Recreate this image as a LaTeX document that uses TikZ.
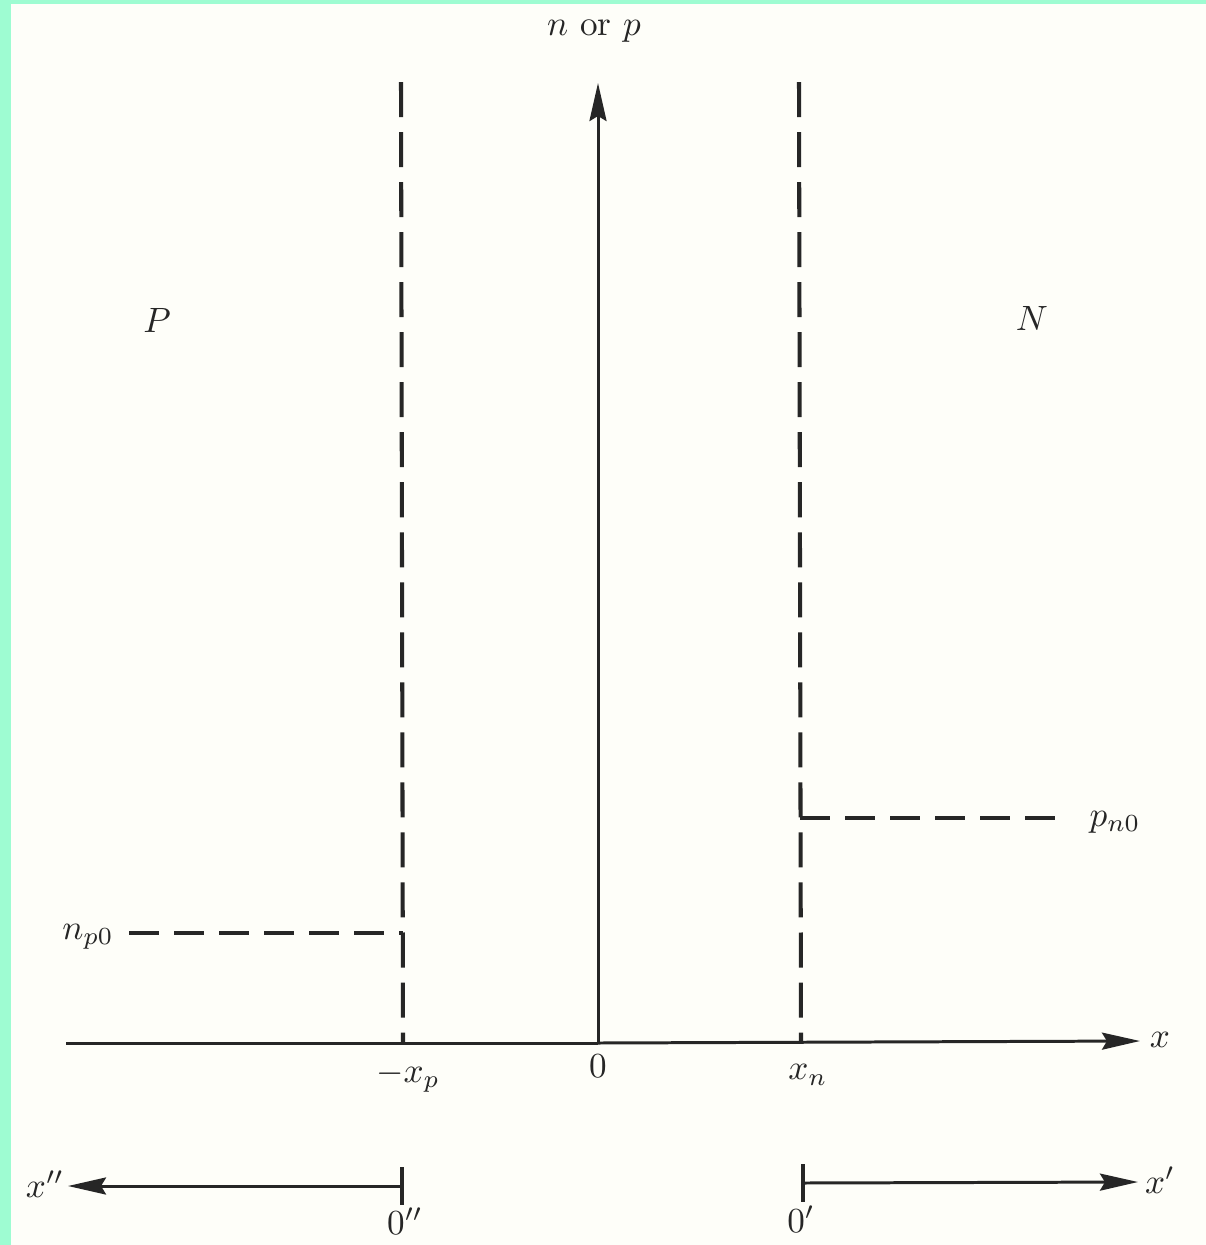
\documentclass[tikz,border=0pt]{standalone}
\usetikzlibrary{arrows.meta,positioning}
\definecolor{ink}{HTML}{262626}
\definecolor{paper}{HTML}{FEFEF9}
\definecolor{frame}{HTML}{9EFCD2}

\begin{document}
\begin{tikzpicture}[
  x=0.01cm,y=-0.01cm,
  text=ink,
  axis/.style={draw=ink,line width=.85pt},
  arrow/.style={axis,-{Stealth[length=3.8mm,width=1.7mm,inset=.5mm]}},
  vdash/.style={draw=ink,line width=1.15pt,dash pattern=on .35cm off .15cm},
  hdash/.style={draw=ink,line width=1.15pt,dash pattern=on .3cm off .15cm},
  tick/.style={draw=ink,line width=1pt},
  label/.style={font=\normalsize,inner sep=1pt}
]
  \useasboundingbox (0,0) rectangle (1206,1245);
  \fill[frame] (0,0) rectangle (1206,1245);
  \fill[paper] (11,4) rectangle (1206,1245);

  % main axes
  \coordinate (origin) at (598,1043);
  \coordinate (ytop) at (598,83);
  \coordinate (xleft) at (66,1043);
  \coordinate (xright) at (1140,1041);
  \draw[axis] (xleft) -- (origin);
  \draw[arrow] (origin) -- (xright);
  \draw[arrow] (origin) -- (ytop);

  % junction edges
  \coordinate (ptop) at (401,82);
  \coordinate (pbot) at (403,1043);
  \coordinate (ntop) at (799,82);
  \coordinate (nbot) at (801,1043);
  \draw[vdash] (ptop) -- (pbot);
  \draw[vdash] (ntop) -- (nbot);

  % equilibrium levels
  \coordinate (npl) at (129,933);
  \coordinate (npr) at (403,933);
  \coordinate (pnl) at (800,818);
  \coordinate (pnr) at (1066,818);
  \draw[hdash] (npl) -- (npr);
  \draw[hdash] (pnl) -- (pnr);

  % shifted axes
  \coordinate (lo2) at (402,1186);
  \coordinate (lend) at (68,1186);
  \coordinate (ro1) at (803,1183);
  \coordinate (rend) at (1138,1182);
  \draw[arrow] (lo2) -- (lend);
  \draw[arrow] (ro1) -- (rend);
  \draw[tick] (402,1167) -- (402,1205);
  \draw[tick] (803,1164) -- (803,1202);

  \node[label] (ylab) at (594,31) {$n$ or $p$};
  \node[label] (xlab) at (1160,1040) {$x$};
  \node[label] (regp) at (157,320) {$P$};
  \node[label] (regn) at (1032,318) {$N$};
  \node[label] (np0) at (88,937) {$n_{p0}$};
  \node[label] (pn0) at (1115,822) {$p_{n0}$};
  \node[label] (xp) at (408,1077) {$-x_p$};
  \node[label] (zero) at (598,1066) {$0$};
  \node[label] (xn) at (808,1075) {$x_n$};
  \node[label] (x2lab) at (45,1184) {$x''$};
  \node[label] (x1lab) at (1160,1180) {$x'$};
  \node[label] (zero2) at (405,1221) {$0''$};
  \node[label] (zero1) at (801,1219) {$0'$};
\end{tikzpicture}
\end{document}
